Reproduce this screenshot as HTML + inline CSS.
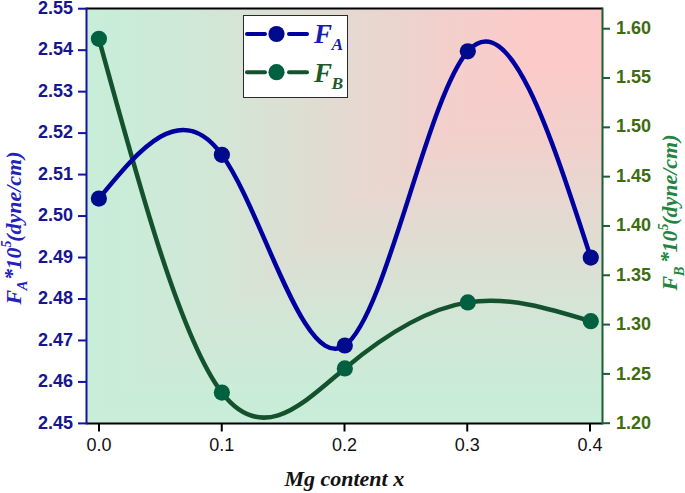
<!DOCTYPE html>
<html><head><meta charset="utf-8"><style>
html,body{margin:0;padding:0;background:#fff;width:685px;height:493px;overflow:hidden}
svg{display:block}
.sans{font-family:"Liberation Sans",sans-serif}
.serif{font-family:"Liberation Serif",serif;font-weight:bold;font-style:italic}
</style></head><body>
<svg width="685" height="493" viewBox="0 0 685 493">
<defs>
<linearGradient id="gh" x1="602.5" y1="0" x2="86.5" y2="0" gradientUnits="userSpaceOnUse"><stop offset="0" stop-color="rgb(253,201,201)"/><stop offset="0.12" stop-color="rgb(252,202,201)"/><stop offset="0.314" stop-color="rgb(242,208,204)"/><stop offset="0.469" stop-color="rgb(230,216,208)"/><stop offset="0.74" stop-color="rgb(211,230,214)"/><stop offset="0.915" stop-color="rgb(202,236,216)"/><stop offset="1" stop-color="rgb(200,237,217)"/></linearGradient>
<linearGradient id="gv" x1="0" y1="8.5" x2="0" y2="423.5" gradientUnits="userSpaceOnUse"><stop offset="0" stop-color="rgb(253,201,201)"/><stop offset="0.12" stop-color="rgb(252,202,201)"/><stop offset="0.314" stop-color="rgb(242,208,204)"/><stop offset="0.469" stop-color="rgb(230,216,208)"/><stop offset="0.74" stop-color="rgb(211,230,214)"/><stop offset="0.915" stop-color="rgb(202,236,216)"/><stop offset="1" stop-color="rgb(200,237,217)"/></linearGradient>
</defs>
<rect x="86.5" y="8.5" width="516.0" height="415.0" fill="url(#gh)"/>
<polygon points="602.5,8.5 602.5,423.5 86.5,423.5" fill="url(#gv)"/>
<path d="M98.90,38.80 C139.89,188.98 180.88,339.17 221.87,392.60 C262.86,446.03 303.85,402.72 344.84,368.40 C385.83,334.08 426.82,308.77 467.81,302.40 C508.80,296.03 549.79,308.62 590.78,321.20" fill="none" stroke="#14522e" stroke-width="4.5"/>
<path d="M98.90,198.60 C139.89,148.54 180.88,98.48 221.87,154.80 C262.86,211.12 303.85,373.83 344.84,345.50 C385.83,317.17 426.82,97.79 467.81,51.30 C508.80,4.81 549.79,131.20 590.78,257.60" fill="none" stroke="#0000a0" stroke-width="4.5"/>
<circle cx="98.90" cy="38.80" r="8.1" fill="#006040"/><circle cx="221.87" cy="392.60" r="8.1" fill="#006040"/><circle cx="344.84" cy="368.40" r="8.1" fill="#006040"/><circle cx="467.81" cy="302.40" r="8.1" fill="#006040"/><circle cx="590.78" cy="321.20" r="8.1" fill="#006040"/>
<circle cx="98.90" cy="198.60" r="8.1" fill="#000a8c"/><circle cx="221.87" cy="154.80" r="8.1" fill="#000a8c"/><circle cx="344.84" cy="345.50" r="8.1" fill="#000a8c"/><circle cx="467.81" cy="51.30" r="8.1" fill="#000a8c"/><circle cx="590.78" cy="257.60" r="8.1" fill="#000a8c"/>
<line x1="86.5" y1="8.5" x2="602.5" y2="8.5" stroke="#000" stroke-width="2"/>
<line x1="86.5" y1="423.5" x2="602.5" y2="423.5" stroke="#000" stroke-width="2"/>
<line x1="86.5" y1="7.5" x2="86.5" y2="424.5" stroke="#1414a0" stroke-width="2"/>
<line x1="602.5" y1="7.5" x2="602.5" y2="424.5" stroke="#1b5e32" stroke-width="2"/>
<g stroke="#1414a0" stroke-width="2"><line x1="78" y1="8.70" x2="86" y2="8.70"/><line x1="78" y1="50.17" x2="86" y2="50.17"/><line x1="78" y1="91.64" x2="86" y2="91.64"/><line x1="78" y1="133.11" x2="86" y2="133.11"/><line x1="78" y1="174.58" x2="86" y2="174.58"/><line x1="78" y1="216.05" x2="86" y2="216.05"/><line x1="78" y1="257.52" x2="86" y2="257.52"/><line x1="78" y1="298.99" x2="86" y2="298.99"/><line x1="78" y1="340.46" x2="86" y2="340.46"/><line x1="78" y1="381.93" x2="86" y2="381.93"/><line x1="78" y1="423.40" x2="86" y2="423.40"/></g>
<g stroke="#1b5e32" stroke-width="2"><line x1="603" y1="423.20" x2="610" y2="423.20"/><line x1="603" y1="373.89" x2="610" y2="373.89"/><line x1="603" y1="324.58" x2="610" y2="324.58"/><line x1="603" y1="275.27" x2="610" y2="275.27"/><line x1="603" y1="225.96" x2="610" y2="225.96"/><line x1="603" y1="176.65" x2="610" y2="176.65"/><line x1="603" y1="127.34" x2="610" y2="127.34"/><line x1="603" y1="78.03" x2="610" y2="78.03"/><line x1="603" y1="28.72" x2="610" y2="28.72"/></g>
<g stroke="#000" stroke-width="2"><line x1="99.00" y1="424" x2="99.00" y2="431.5"/><line x1="221.75" y1="424" x2="221.75" y2="431.5"/><line x1="344.50" y1="424" x2="344.50" y2="431.5"/><line x1="467.25" y1="424" x2="467.25" y2="431.5"/><line x1="590.00" y1="424" x2="590.00" y2="431.5"/></g>
<g class="sans" font-weight="bold" font-size="18" fill="#161690" text-anchor="end" dominant-baseline="central"><text x="73" y="7.80">2.55</text><text x="73" y="49.27">2.54</text><text x="73" y="90.74">2.53</text><text x="73" y="132.21">2.52</text><text x="73" y="173.68">2.51</text><text x="73" y="215.15">2.50</text><text x="73" y="256.62">2.49</text><text x="73" y="298.09">2.48</text><text x="73" y="339.56">2.47</text><text x="73" y="381.03">2.46</text><text x="73" y="422.50">2.45</text></g>
<g class="sans" font-weight="bold" font-size="18" fill="#3e6c0e" text-anchor="start" dominant-baseline="central"><text x="616" y="423.05">1.20</text><text x="616" y="373.62">1.25</text><text x="616" y="324.19">1.30</text><text x="616" y="274.76">1.35</text><text x="616" y="225.33">1.40</text><text x="616" y="175.91">1.45</text><text x="616" y="126.48">1.50</text><text x="616" y="77.05">1.55</text><text x="616" y="27.62">1.60</text></g>
<g class="sans" font-size="18" fill="#111" text-anchor="middle"><text x="99.00" y="451">0.0</text><text x="221.75" y="451">0.1</text><text x="344.50" y="451">0.2</text><text x="467.25" y="451">0.3</text><text x="590.00" y="451">0.4</text></g>
<text class="serif" x="344.3" y="485.5" font-size="22" fill="#111" text-anchor="middle">Mg content x</text>
<g transform="translate(20.5,304.5) rotate(-90)"><text class="serif" font-family="Liberation Serif" font-weight="bold" font-style="italic" font-size="22" x="0" y="0"><tspan fill="#2222bb">F</tspan><tspan fill="#2222bb" font-size="14.5" dx="-0.5" dy="6.3">A</tspan><tspan fill="#2222bb" dx="0.6" dy="-8.3">*</tspan><tspan fill="#2222bb" dx="-0.4" dy="2.0">10</tspan><tspan fill="#2222bb" font-size="14" dy="-9.5">5</tspan><tspan fill="#2222bb" dx="-1.4" dy="9.5">(dyne/cm)</tspan></text></g>
<g transform="translate(677.3,290.5) rotate(-90)"><text class="serif" font-family="Liberation Serif" font-weight="bold" font-style="italic" font-size="22" x="0" y="0"><tspan fill="#22843f">F</tspan><tspan fill="#22843f" font-size="14.5" dx="-0.5" dy="6.3">B</tspan><tspan fill="#22843f" dx="3.6" dy="-8.3">*</tspan><tspan fill="#22843f" dx="-0.4" dy="2.0">10</tspan><tspan fill="#22843f" font-size="14" dy="-9.5">5</tspan><tspan fill="#22843f" dx="-1.4" dy="9.5">(dyne/cm)</tspan></text></g>
<rect x="243.5" y="15.5" width="104" height="82" fill="#fff" stroke="#2a2a2a" stroke-width="1"/>
<line x1="247" y1="34" x2="265" y2="34" stroke="#0000a0" stroke-width="4" stroke-linecap="round"/>
<line x1="289" y1="34" x2="307" y2="34" stroke="#0000a0" stroke-width="4" stroke-linecap="round"/>
<circle cx="276.5" cy="34" r="8.1" fill="#000a8c"/>
<line x1="247" y1="72.2" x2="265" y2="72.2" stroke="#14522e" stroke-width="4" stroke-linecap="round"/>
<line x1="289" y1="72.2" x2="307" y2="72.2" stroke="#14522e" stroke-width="4" stroke-linecap="round"/>
<circle cx="276.5" cy="72.2" r="8.1" fill="#006040"/>
<text class="serif" x="314" y="42.5" font-size="27" fill="#1a1ab0">F<tspan font-size="17.5" dx="-0.5" dy="7.3">A</tspan></text>
<text class="serif" x="314" y="82.2" font-size="27" fill="#1d5a2a">F<tspan font-size="17.5" dx="-0.5" dy="7">B</tspan></text>
</svg>
</body></html>
